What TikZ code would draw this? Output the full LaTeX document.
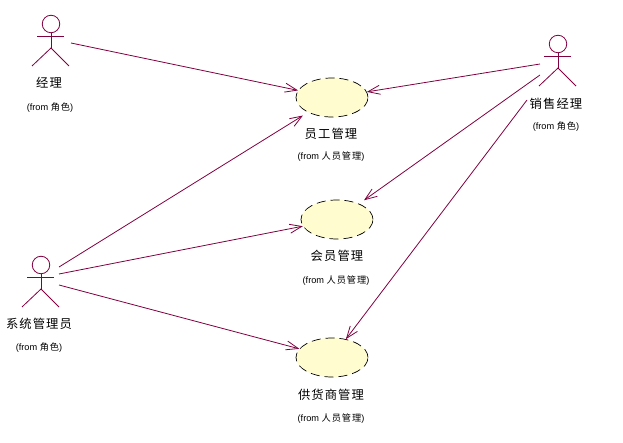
\documentclass[tikz,border=0pt]{standalone}
\usepackage{fontspec}
\setmainfont{Liberation Sans}
\newfontfamily\cjkbig[LetterSpace=9]{Noto Sans CJK SC}
\newfontfamily\cjksmall[LetterSpace=10]{Noto Sans CJK SC}
\usepackage{xcolor}
\usetikzlibrary{shapes.geometric, arrows.meta}
\definecolor{actorline}{RGB}{128,0,64}
\definecolor{casefill}{RGB}{255,253,208}
\newcommand{\fromrole}{(from {\cjksmall 角色})}
\newcommand{\frompeople}{(from {\cjksmall 人员管理})}

\begin{document}
\begin{tikzpicture}[
		x=1pt, y=-1pt,
		usecase/.style={ellipse, draw=black, dash pattern=on 9pt off 5pt, fill=casefill,
			line width=0.7pt, minimum width=72pt, minimum height=39pt, inner sep=0pt},
		actorhead/.style={circle, draw=actorline, line width=0.8pt, minimum size=17.5pt, inner sep=0pt},
		limb/.style={draw=actorline, line width=0.8pt},
		assoc/.style={draw=actorline, line width=0.8pt, -{Straight Barb[length=12pt,width=9pt]}},
		namelabel/.style={font=\fontsize{12.3}{14}\cjkbig, inner sep=0pt},
		fromlabel/.style={font=\fontsize{9.2}{11}\selectfont, inner sep=0pt}
		]
		\useasboundingbox (0,0) rectangle (623,443);
		
		% draw actors
		\foreach \name/\x/\y in {mgr/51/24,sales/558/44,admin/41/265} {
			\node[actorhead] (head-\name) at (\x,\y) {};
			\coordinate (hip-\name) at (\x,\y+24);
			\draw[limb] (head-\name.south) -- (hip-\name);
			\draw[limb] (\x-14,\y+12) -- (\x+13,\y+12);
			\draw[limb] (\x-19,\y+42) -- (hip-\name) -- (\x+18,\y+42);
		}
		
		% draw use cases
		\node[usecase] (staff) at (332,97.5) {};
		\node[usecase] (member) at (337,219.5) {};
		\node[usecase] (supplier) at (332,357.5) {};
		
		% draw labels
		\node[namelabel] (l-mgr) at (49,83) {经理};
		\node[fromlabel] (f-mgr) at (50,108) {\fromrole};
		\node[namelabel] (l-sales) at (556,104) {销售经理};
		\node[fromlabel] (f-sales) at (556,127) {\fromrole};
		\node[namelabel] (l-admin) at (39,324) {系统管理员};
		\node[fromlabel] (f-admin) at (39,348) {\fromrole};
		\node[namelabel] (l-staff) at (331,134) {员工管理};
		\node[fromlabel] (f-staff) at (331,157) {\frompeople};
		\node[namelabel] (l-member) at (337,256) {会员管理};
		\node[fromlabel] (f-member) at (336,281) {\frompeople};
		\node[namelabel] (l-supplier) at (331,395) {供货商管理};
		\node[fromlabel] (f-supplier) at (331,419) {\frompeople};
		
		% start points of the associations
		\coordinate (mgr1) at (71,43);
		\coordinate (sales1) at (540,64);
		\coordinate (sales2) at (540,75);
		\coordinate (sales3) at (527,100);
		\coordinate (admin1) at (59,267);
		\coordinate (admin2) at (59,274);
		\coordinate (admin3) at (59,285);
		
		\draw[assoc] (mgr1) -- (staff);
		\draw[assoc] (sales1) -- (staff);
		\draw[assoc, shorten >=6pt] (sales2) -- (member);
		\draw[assoc] (sales3) -- (supplier);
		\draw[assoc, shorten >=6pt] (admin1) -- (staff);
		\draw[assoc] (admin2) -- (member);
		\draw[assoc] (admin3) -- (supplier);
		\end{tikzpicture}
\end{document}
